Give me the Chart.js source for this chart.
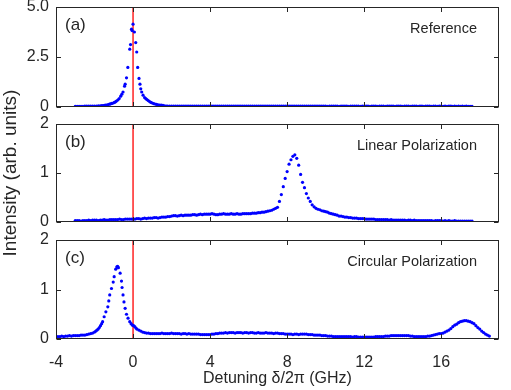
<!DOCTYPE html>
<html>
<head>
<meta charset="utf-8">
<script src="https://cdn.jsdelivr.net/npm/chart.js@4.4.0/dist/chart.umd.min.js"></script>
<style>
  body { margin: 0; background: #fff; }
  #wrap { position: relative; width: 511px; height: 390px; }
  #wrap canvas { position: absolute; left: 0; top: 0; }
</style>
</head>
<body>
<div id="wrap">
  <canvas id="panelA" width="511" height="390"></canvas>
  <canvas id="panelB" width="511" height="390"></canvas>
  <canvas id="panelC" width="511" height="390"></canvas>
</div>
<script>
// detuning sample grid (GHz)
const gridX = [
  -4.0,-3.9,-3.8,-3.7,-3.6,-3.5,-3.4,-3.3,-3.2,-3.1,
  -3.0,-2.9,-2.8,-2.7,-2.6,-2.5,-2.4,-2.3,-2.2,-2.1,
  -2.0,-1.9,-1.8,-1.7,-1.6,-1.5,-1.4,-1.3,-1.2,-1.1,
  -1.0,-0.9,-0.8,-0.7,-0.6,-0.5,-0.4,-0.3,-0.2,-0.1,
  0.0,0.1,0.2,0.3,0.4,0.5,0.6,0.7,0.8,0.9,
  1.0,1.1,1.2,1.3,1.4,1.5,1.6,1.7,1.8,1.9,
  2.0,2.1,2.2,2.3,2.4,2.5,2.6,2.7,2.8,2.9,
  3.0,3.1,3.2,3.3,3.4,3.5,3.6,3.7,3.8,3.9,
  4.0,4.1,4.2,4.3,4.4,4.5,4.6,4.7,4.8,4.9,
  5.0,5.1,5.2,5.3,5.4,5.5,5.6,5.7,5.8,5.9,
  6.0,6.1,6.2,6.3,6.4,6.5,6.6,6.7,6.8,6.9,
  7.0,7.1,7.2,7.3,7.4,7.5,7.6,7.7,7.8,7.9,
  8.0,8.1,8.2,8.3,8.4,8.5,8.6,8.7,8.8,8.9,
  9.0,9.1,9.2,9.3,9.4,9.5,9.6,9.7,9.8,9.9,
  10.0,10.1,10.2,10.3,10.4,10.5,10.6,10.7,10.8,10.9,
  11.0,11.1,11.2,11.3,11.4,11.5,11.6,11.7,11.8,11.9,
  12.0,12.1,12.2,12.3,12.4,12.5,12.6,12.7,12.8,12.9,
  13.0,13.1,13.2,13.3,13.4,13.5,13.6,13.7,13.8,13.9,
  14.0,14.1,14.2,14.3,14.4,14.5,14.6,14.7,14.8,14.9,
  15.0,15.1,15.2,15.3,15.4,15.5,15.6,15.7,15.8,15.9,
  16.0,16.1,16.2,16.3,16.4,16.5,16.6,16.7,16.8,16.9,
  17.0,17.1,17.2,17.3,17.4,17.5,17.6,17.7,17.8,17.9,
  18.0,18.1,18.2,18.3,18.4,18.5
]

// (a) Reference: -3.0..-1.7 on the grid, finer samples across the peak, 1.8..17.6 on the grid
const aLeftY = [0.03,0.03,0.03,0.03,0.03,0.04,0.04,0.04,0.04,0.05,0.05,0.05,0.06,0.06]
const aPeakX = [
  -1.62,-1.55,-1.48,-1.42,-1.36,-1.29,-1.22,-1.16,-1.10,-1.03,-0.97,-0.91,-0.86,-0.79,
  -0.72,-0.64,-0.58,-0.52,-0.44,-0.41,-0.34,-0.27,-0.17,-0.13,-0.08,-0.05,0.0,0.07,
  0.14,0.19,0.24,0.31,0.36,0.40,0.45,0.52,0.60,0.66,0.72,0.79,0.86,0.93,1.00,1.07,
  1.14,1.22,1.30,1.38,1.46,1.55,1.64,1.73
]
const aPeakY = [
  0.07,0.07,0.08,0.09,0.10,0.12,0.14,0.16,0.18,0.20,0.23,0.26,0.30,0.35,
  0.42,0.54,0.64,0.75,1.04,1.14,1.46,1.98,2.89,3.12,3.89,3.82,4.14,3.75,
  3.22,2.75,1.98,1.43,1.14,0.91,0.75,0.59,0.47,0.42,0.37,0.32,0.27,0.23,0.20,0.17,
  0.15,0.13,0.11,0.10,0.09,0.08,0.06,0.05
]
const aRightY = [
  0.05,0.05,0.05,0.05,0.04,0.05,0.04,0.04,0.05,0.04,
  0.04,0.04,0.05,0.04,0.04,0.04,0.05,0.04,0.04,0.04,
  0.04,0.05,0.04,0.04,0.04,0.05,0.04,0.04,0.04,0.04,
  0.05,0.04,0.04,0.04,0.04,0.05,0.04,0.04,0.04,0.04,
  0.04,0.04,0.05,0.04,0.04,0.04,0.04,0.04,0.05,0.04,
  0.04,0.04,0.04,0.04,0.05,0.04,0.04,0.04,0.04,0.04,
  0.04,0.05,0.04,0.04,0.04,0.04,0.04,0.05,0.04,0.04,
  0.04,0.04,0.04,0.04,0.05,0.04,0.04,0.04,0.04,0.04,
  0.04,0.04,0.04,0.03,0.04,0.04,0.04,0.04,0.04,0.03,
  0.04,0.04,0.04,0.04,0.03,0.04,0.04,0.04,0.04,0.04,
  0.03,0.04,0.04,0.04,0.04,0.03,0.04,0.04,0.04,0.03,
  0.04,0.04,0.04,0.03,0.04,0.04,0.04,0.04,0.03,0.04,
  0.04,0.04,0.03,0.04,0.04,0.04,0.03,0.04,0.04,0.04,
  0.03,0.04,0.04,0.03,0.04,0.04,0.04,0.03,0.04,0.04,
  0.03,0.04,0.04,0.03,0.04,0.03,0.04,0.04,0.03,0.04,
  0.03,0.04,0.03,0.04,0.03,0.04,0.03,0.03,0.03
]

// (b) Linear polarization: -3.0..17.6 on the grid
const bY = [
  0.03,0.03,0.03,0.02,0.03,0.03,0.03,0.04,0.03,0.04,
  0.04,0.04,0.03,0.04,0.04,0.05,0.04,0.04,0.05,0.05,
  0.05,0.05,0.05,0.06,0.05,0.05,0.06,0.06,0.06,0.06,
  0.06,0.06,0.07,0.07,0.06,0.07,0.08,0.07,0.08,0.08,
  0.08,0.09,0.09,0.08,0.09,0.10,0.10,0.10,0.11,0.11,
  0.12,0.13,0.13,0.12,0.13,0.14,0.13,0.14,0.14,0.14,
  0.14,0.15,0.15,0.14,0.15,0.16,0.15,0.16,0.16,0.16,
  0.16,0.17,0.16,0.15,0.15,0.16,0.16,0.17,0.16,0.16,
  0.16,0.17,0.16,0.16,0.17,0.16,0.16,0.17,0.17,0.17,
  0.17,0.17,0.18,0.18,0.18,0.19,0.19,0.20,0.20,0.21,
  0.22,0.23,0.24,0.26,0.28,0.30,0.42,0.56,0.72,0.89,
  1.03,1.18,1.27,1.34,1.37,1.30,1.16,0.97,0.81,0.70,
  0.58,0.49,0.42,0.35,0.31,0.28,0.26,0.25,0.23,0.22,
  0.21,0.20,0.18,0.17,0.16,0.15,0.14,0.12,0.12,0.11,
  0.10,0.10,0.09,0.09,0.08,0.08,0.08,0.07,0.07,0.07,
  0.07,0.06,0.06,0.06,0.06,0.06,0.05,0.05,0.05,0.05,
  0.05,0.05,0.05,0.04,0.05,0.04,0.04,0.04,0.04,0.04,
  0.04,0.04,0.03,0.04,0.04,0.03,0.04,0.03,0.03,0.03,
  0.03,0.03,0.03,0.03,0.03,0.03,0.02,0.03,0.03,0.03,
  0.03,0.02,0.03,0.02,0.03,0.02,0.02,0.03,0.02,0.02,
  0.02,0.02,0.02,0.02,0.02,0.02,0.02
]

// (c) Circular polarization: -4.0..-2.0 on the grid, finer samples across the peak, 0.2..18.5 on the grid
const cLeftY = [
  0.05,0.05,0.05,0.06,0.05,0.06,0.06,0.07,0.06,0.07,
  0.07,0.07,0.07,0.08,0.08,0.08,0.09,0.10,0.11,0.12,0.14
]
const cPeakX = [
  -1.93,-1.87,-1.81,-1.75,-1.69,-1.63,-1.58,-1.50,-1.41,-1.31,-1.26,-1.21,-1.12,-1.03,
  -0.98,-0.90,-0.84,-0.80,-0.76,-0.67,-0.60,-0.57,-0.52,-0.47,-0.41,-0.34,-0.26,-0.17,
  -0.10,-0.03,0.03,0.09,0.15
]
const cPeakY = [
  0.16,0.18,0.20,0.23,0.27,0.31,0.35,0.45,0.55,0.65,0.77,0.89,1.02,1.15,
  1.26,1.41,1.46,1.47,1.44,1.33,1.17,1.04,0.89,0.75,0.62,0.50,0.42,0.35,
  0.31,0.28,0.27,0.25,0.22
]
const cRightY = [
  0.20,0.18,0.16,0.14,0.13,0.12,0.12,0.11,0.11,0.11,
  0.11,0.11,0.11,0.12,0.11,0.11,0.11,0.11,0.12,0.11,
  0.11,0.11,0.11,0.10,0.11,0.11,0.10,0.11,0.10,0.10,
  0.10,0.10,0.10,0.09,0.09,0.09,0.09,0.09,0.09,0.10,
  0.10,0.11,0.11,0.12,0.12,0.12,0.13,0.12,0.13,0.13,
  0.13,0.12,0.13,0.13,0.13,0.12,0.13,0.13,0.12,0.13,
  0.13,0.12,0.12,0.13,0.12,0.12,0.12,0.13,0.12,0.12,
  0.12,0.11,0.12,0.12,0.11,0.11,0.11,0.10,0.10,0.10,
  0.10,0.09,0.10,0.10,0.09,0.10,0.10,0.10,0.10,0.09,
  0.09,0.09,0.08,0.08,0.08,0.08,0.07,0.07,0.07,0.06,
  0.06,0.06,0.05,0.05,0.05,0.05,0.05,0.05,0.05,0.05,
  0.05,0.05,0.04,0.05,0.05,0.04,0.04,0.04,0.04,0.04,
  0.04,0.04,0.04,0.04,0.05,0.05,0.05,0.05,0.05,0.06,
  0.06,0.06,0.07,0.07,0.07,0.07,0.07,0.07,0.07,0.07,
  0.07,0.07,0.06,0.06,0.05,0.05,0.05,0.05,0.05,0.05,
  0.05,0.06,0.06,0.07,0.08,0.09,0.10,0.11,0.11,0.12,
  0.14,0.16,0.18,0.21,0.25,0.28,0.30,0.33,0.35,0.36,
  0.37,0.37,0.36,0.35,0.33,0.31,0.27,0.23,0.20,0.16,
  0.13,0.10,0.08,0.06
]

const xTicks = [-4, 0, 4, 8, 12, 16]
const xTickLabels = ["-4", "0", "4", "8", "12", "16"]
const aYTicks = [0, 2.5, 5]
const aYTickLabels = ["0", "2.5", "5.0"]
const bcYTicks = [0, 1, 2]
const bcYTickLabels = ["0", "1", "2"]
const resonance = 0

const axisColor = "#262626"
const dotColor = "#0000ff"
const lineColor = "#ff0000"

Chart.defaults.font.family = '"Liberation Sans", Arial, sans-serif'
Chart.defaults.color = axisColor

const toPoints = (xs, ys) => xs.map((x, i) => ({ x: x, y: ys[i] }))

// box with inward ticks on all four sides, plus the panel tag and name
const panelFrame = {
  id: "panelFrame",
  afterDatasetsDraw(chart, args, opts) {
    const { ctx, chartArea: a, scales } = chart
    const L = Math.round(a.left) + 0.5
    const R = Math.round(a.right) - 0.5
    const T = Math.round(a.top) + 0.5
    const B = Math.round(a.bottom) - 0.5
    const len = 4.5
    ctx.save()
    ctx.strokeStyle = axisColor
    ctx.lineWidth = 1
    ctx.strokeRect(L, T, R - L, B - T)
    ctx.beginPath()
    xTicks.forEach(v => {
      const px = Math.round(scales.x.getPixelForValue(v)) + 0.5
      ctx.moveTo(px, B); ctx.lineTo(px, B - len)
      ctx.moveTo(px, T); ctx.lineTo(px, T + len)
    })
    opts.yTicks.forEach(v => {
      const py = Math.round(scales.y.getPixelForValue(v)) + 0.5
      ctx.moveTo(L, py); ctx.lineTo(L + len, py)
      ctx.moveTo(R, py); ctx.lineTo(R - len, py)
    })
    ctx.stroke()
    ctx.fillStyle = axisColor
    ctx.textBaseline = "alphabetic"
    ctx.font = '17px "Liberation Sans", Arial, sans-serif'
    ctx.textAlign = "left"
    ctx.fillText(opts.tag, a.left + 9, a.top + 23)
    ctx.font = '14.5px "Liberation Sans", Arial, sans-serif'
    ctx.textAlign = "right"
    ctx.fillText(opts.name, a.right - 22, a.top + 26)
    ctx.restore()
  }
}

function makePanel(id, points, cfg) {
  new Chart(document.getElementById(id), {
    type: "scatter",
    data: {
      datasets: [
        {
          data: points,
          pointRadius: 1.6,
          pointBorderWidth: 0,
          pointBackgroundColor: dotColor,
          pointHoverRadius: 1.6
        },
        {
          data: [{ x: resonance, y: cfg.yMin }, { x: resonance, y: cfg.yMax }],
          showLine: true,
          borderColor: lineColor,
          borderWidth: 1.3,
          pointRadius: 0
        }
      ]
    },
    options: {
      responsive: false,
      animation: false,
      events: [],
      layout: { autoPadding: false, padding: { left: 0, right: 12, top: cfg.top, bottom: cfg.bottom } },
      plugins: {
        legend: { display: false },
        tooltip: { enabled: false },
        panelFrame: { yTicks: cfg.yTicks, tag: cfg.tag, name: cfg.name }
      },
      scales: {
        x: {
          type: "linear",
          min: -4,
          max: 19,
          grid: { display: false, drawTicks: false },
          border: { display: false },
          afterBuildTicks: s => { s.ticks = xTicks.map(v => ({ value: v })) },
          afterFit: s => { s.height = cfg.xHeight; s.paddingLeft = 0; s.paddingRight = 0 },
          ticks: {
            display: cfg.showX,
            autoSkip: false,
            maxRotation: 0,
            padding: 14,
            color: axisColor,
            font: { size: 16 },
            callback: v => xTickLabels[xTicks.indexOf(v)]
          },
          title: {
            display: cfg.showX,
            text: "Detuning δ/2π (GHz)",
            color: axisColor,
            font: { size: 16 },
            padding: { top: 0, bottom: 2 }
          }
        },
        y: {
          min: cfg.yMin,
          max: cfg.yMax,
          grid: { display: false, drawTicks: false },
          border: { display: false },
          afterBuildTicks: s => { s.ticks = cfg.yTicks.map(v => ({ value: v })) },
          afterFit: s => { s.width = 56; s.paddingTop = 0; s.paddingBottom = 0 },
          ticks: {
            padding: 7,
            color: axisColor,
            font: { size: 16 },
            callback: v => cfg.yLabels[cfg.yTicks.indexOf(v)]
          },
          title: {
            display: cfg.yTitle,
            text: "Intensity (arb. units)",
            color: axisColor,
            font: { size: 19, lineHeight: 1.1 },
            padding: { top: 0, bottom: 0 }
          }
        }
      }
    },
    plugins: [panelFrame]
  })
}

const aPoints = [
  ...toPoints(gridX.slice(10, 24), aLeftY),
  ...toPoints(aPeakX, aPeakY),
  ...toPoints(gridX.slice(58, 217), aRightY)
]
const bPoints = toPoints(gridX.slice(10, 217), bY)
const cPoints = [
  ...toPoints(gridX.slice(0, 21), cLeftY),
  ...toPoints(cPeakX, cPeakY),
  ...toPoints(gridX.slice(42), cRightY)
]

makePanel("panelA", aPoints, {
  top: 7, bottom: 283, xHeight: 0, showX: false, yTitle: false,
  yMin: 0, yMax: 5, yTicks: aYTicks, yLabels: aYTickLabels,
  tag: "(a)", name: "Reference"
})
makePanel("panelB", bPoints, {
  top: 124, bottom: 168, xHeight: 0, showX: false, yTitle: true,
  yMin: 0, yMax: 2, yTicks: bcYTicks, yLabels: bcYTickLabels,
  tag: "(b)", name: "Linear Polarization"
})
makePanel("panelC", cPoints, {
  top: 240, bottom: 0, xHeight: 51, showX: true, yTitle: false,
  yMin: 0, yMax: 2, yTicks: bcYTicks, yLabels: bcYTickLabels,
  tag: "(c)", name: "Circular Polarization"
})
</script>
</body>
</html>
